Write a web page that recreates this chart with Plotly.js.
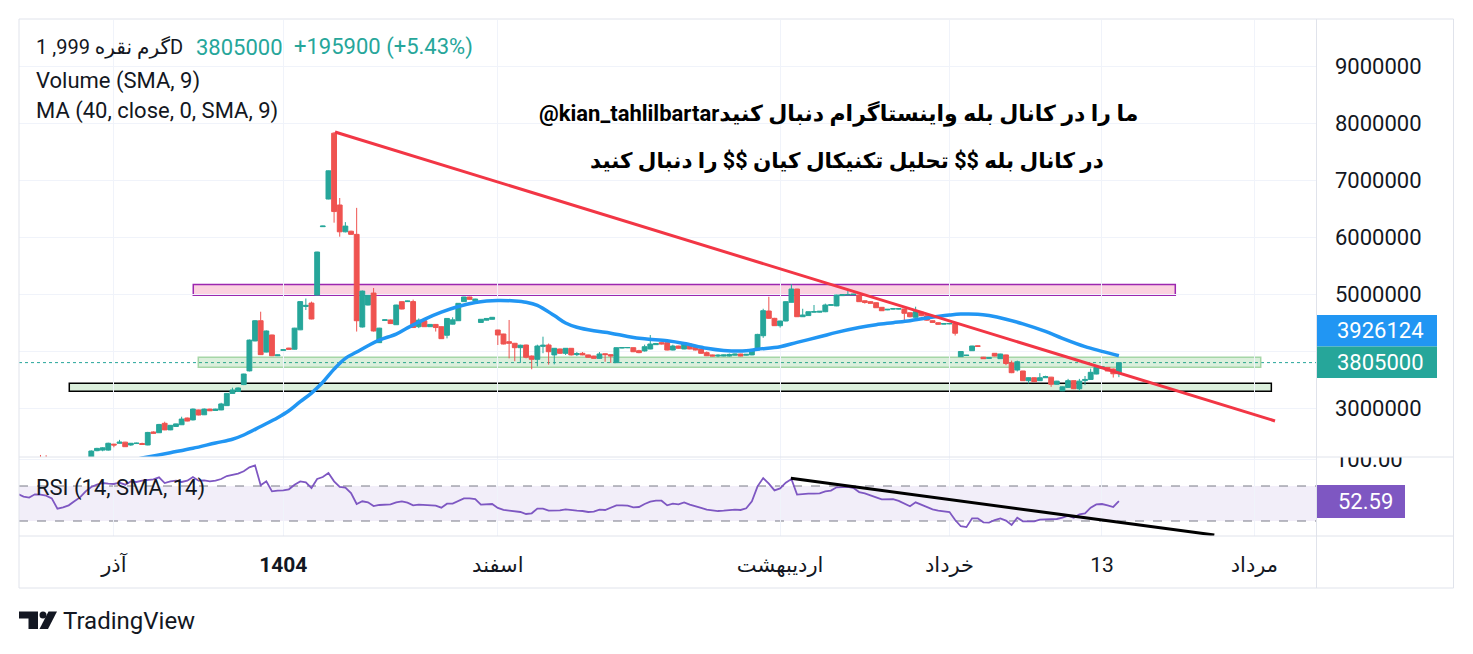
<!DOCTYPE html>
<html>
<head>
<meta charset="utf-8">
<script src="https://cdn.plot.ly/plotly-3.0.1.min.js"></script>
<style>
html,body{margin:0;padding:0;background:#ffffff;}
#chart{width:1473px;height:654px;}
</style>
</head>
<body>
<div id="chart"></div>
<script>
// ---------------- DATA ----------------
const barOpen = [1960000,1980000,1960000,1955000,2010000,2010000,2000000,1970000,1890000,1910000,
1940000,1980000,2030000,2120000,2260000,2270000,2270000,2375000,2390000,2410000,
2360000,2385000,2385000,2360000,2588000,2575000,2740000,2625000,2685000,2715000,
2833000,2800000,2975000,2890000,2990000,2965000,2975000,3050000,3265000,3300000,
3420000,3660000,4185000,4540000,3990000,4290000,3926000,4020000,4060000,4040000,
4380000,4790000,4850000,4990000,6190000,6675000,7830000,6570000,6100000,6110000,
6055000,4430000,4815000,5025000,4155000,4545000,4553000,4470000,4874000,4875000,
4875000,4435000,4540000,4435000,4475000,4435000,4285000,4480000,4540000,4875000,
4956000,4890000,4510000,4550000,4565000,4377000,4307000,4172000,4144000,4067000,
4114000,3920000,3863000,4090000,4114000,3940000,4044000,3968000,4056000,3945000,
3968000,3940000,3920000,3880000,3960000,3945000,3804000,4060000,4065000,4067000,
4014000,4010000,4044000,4120000,4155000,4155000,4026000,4096000,4044000,4131000,
4070000,4044000,3980000,3940000,3920000,3920000,3920000,3935000,3956000,3935000,
3940000,4026000,4277000,4710000,4582000,4453000,4535000,4863000,5096000,4610000,
4630000,4690000,4690000,4698000,4810000,4800000,4980000,4990000,4995000,4990000,
4890000,4874000,4856000,4775000,4730000,4745000,4745000,4745000,4680000,4600000,
4688000,4628000,4540000,4505000,4480000,4485000,4488000,3910000,3930000,4014000,
4100000,3900000,3880000,3968000,3874000,3940000,3800000,3675000,3658000,3488000,
3540000,3488000,3540000,3550000,3425000,3310000,3370000,3488000,3347000,3490000,
3510000,3605000,3705000,3720000,3693000,3610000];

const barHigh = [1990000,2000000,1980000,2020000,2185000,2180000,2020000,1980000,1920000,1950000,
1990000,2040000,2120000,2265000,2310000,2320000,2400000,2380000,2450000,2415000,
2395000,2400000,2400000,2590000,2600000,2730000,2768000,2710000,2735000,2856000,
2840000,3000000,2980000,3000000,2995000,2995000,3100000,3270000,3365000,3370000,
3610000,4210000,4550000,4698000,4370000,4295000,3945000,4035000,4065000,4415000,
4880000,4930000,4875000,5750000,6205000,7175000,7850000,6693000,6270000,6120000,
6520000,5070000,4990000,5114000,4415000,4560000,4560000,4820000,4880000,4890000,
4910000,4580000,4545000,4480000,4480000,4440000,4585000,4600000,4850000,4960000,
4960000,4925000,4570000,4585000,4605000,4380000,4310000,4553000,4150000,4120000,
4120000,3930000,4120000,4260000,4140000,4060000,4050000,4060000,4060000,3990000,
3990000,3945000,3925000,3990000,3965000,3950000,4070000,4075000,4075000,4070000,
4030000,4120000,4289000,4150000,4160000,4160000,4120000,4100000,4140000,4135000,
4075000,4050000,4000000,3945000,3950000,3945000,3965000,3960000,3960000,3955000,
4030000,4310000,4750000,4960000,4590000,4540000,4880000,5184000,5100000,4750000,
4700000,4816000,4710000,4840000,4830000,4995000,5005000,5090000,5010000,4995000,
4895000,4880000,4860000,4780000,4745000,4755000,4755000,4750000,4685000,4786000,
4695000,4630000,4545000,4510000,4492000,4495000,4490000,4005000,3940000,4100000,
4105000,3905000,3895000,3970000,3960000,3945000,3840000,3840000,3660000,3545000,
3545000,3620000,3575000,3555000,3485000,3385000,3520000,3490000,3520000,3570000,
3700000,3725000,3740000,3725000,3700000,3810000];

const barLow = [1940000,1950000,1940000,1950000,2000000,1990000,1960000,1880000,1870000,1900000,
1930000,1970000,2020000,2110000,2250000,2250000,2260000,2320000,2385000,2325000,
2345000,2380000,2365000,2355000,2560000,2570000,2620000,2620000,2680000,2710000,
2775000,2790000,2880000,2885000,2955000,2960000,2970000,3045000,3260000,3295000,
3410000,3650000,4180000,3940000,3985000,3920000,3920000,4015000,4035000,4035000,
4375000,4728000,4565000,4985000,6185000,6670000,6260000,6014000,6090000,6050000,
4350000,4420000,4810000,4350000,4150000,4540000,4485000,4465000,4740000,4870000,
4415000,4410000,4430000,4430000,4350000,4220000,4230000,4475000,4535000,4870000,
4910000,4885000,4505000,4545000,4560000,4114000,4125000,3880000,3830000,3800000,
3880000,3688000,3740000,3970000,3770000,3775000,3960000,3940000,3930000,3920000,
3935000,3890000,3875000,3875000,3820000,3800000,3800000,4055000,4060000,3990000,
3970000,4000000,4040000,4115000,4125000,4020000,4020000,4050000,4040000,4040000,
4020000,3960000,3920000,3915000,3900000,3915000,3910000,3930000,3915000,3930000,
3935000,4020000,4240000,4575000,4450000,4420000,4530000,4860000,4605000,4605000,
4625000,4685000,4685000,4690000,4805000,4795000,4975000,4985000,4990000,4870000,
4840000,4840000,4765000,4710000,4725000,4740000,4740000,4503000,4600000,4595000,
4620000,4540000,4505000,4470000,4478000,4480000,4280000,3905000,3925000,4010000,
4085000,3870000,3875000,3915000,3870000,3760000,3620000,3650000,3485000,3440000,
3465000,3485000,3535000,3380000,3420000,3305000,3365000,3340000,3310000,3410000,
3505000,3600000,3700000,3655000,3543000,3550000];

const barClose = [1980000,1960000,1955000,2010000,2005000,2000000,1970000,1890000,1910000,1940000,
1980000,2030000,2110000,2254000,2300000,2310000,2390000,2360000,2410000,2330000,
2390000,2392000,2370000,2580000,2565000,2720000,2625000,2705000,2730000,2815000,
2780000,2990000,2886000,2990000,2960000,2990000,3080000,3265000,3325000,3360000,
3605000,4200000,4540000,3945000,4360000,3926000,3940000,4030000,4038000,4410000,
4875000,4810000,4570000,5745000,6200000,7170000,6455000,6100000,6200000,6055000,
4540000,5060000,4985000,4360000,4410000,4555000,4490000,4815000,4745000,4885000,
4420000,4550000,4435000,4475000,4420000,4225000,4580000,4555000,4845000,4956000,
4915000,4920000,4565000,4580000,4600000,4290000,4131000,4144000,4067000,4110000,
3898000,3863000,4096000,4110000,3996000,4056000,3968000,4056000,3940000,3963000,
3940000,3898000,3880000,3956000,3945000,3920000,4067000,4070000,4070000,3996000,
3980000,4084000,4131000,4140000,4131000,4026000,4096000,4056000,4131000,4044000,
4026000,3968000,3926000,3920000,3935000,3940000,3948000,3956000,3920000,3950000,
4026000,4300000,4716000,4582000,4453000,4535000,4874000,5096000,4610000,4640000,
4698000,4700000,4705000,4816000,4820000,4990000,5000000,5000000,5005000,4874000,
4860000,4845000,4768000,4715000,4740000,4750000,4750000,4670000,4610000,4698000,
4628000,4550000,4510000,4477000,4490000,4490000,4320000,4000000,3935000,4096000,
4090000,3874000,3890000,3920000,3956000,3790000,3628000,3820000,3488000,3540000,
3470000,3540000,3560000,3425000,3480000,3380000,3488000,3347000,3480000,3510000,
3635000,3720000,3733000,3658000,3609100,3805000];

const rsiValues = [60.9,57.8,56.7,60.5,60.1,59.0,55.9,44.1,45.6,47.9,
52.5,57.0,63.9,68.9,71.5,73.4,72.7,72.3,73.8,71.5,
75.3,74.6,76.1,77.2,77.6,79.9,73.4,75.3,76.1,74.6,
76.1,80.3,76.1,76.5,75.3,76.1,78.0,81.4,83.0,84.1,
86.8,91.3,93.6,70.8,75.3,63.9,64.7,65.0,66.2,71.5,
75.3,74.2,67.7,78.0,80.3,84.9,75.3,68.9,68.1,62.0,
49.4,52.5,51.3,47.1,48.3,48.7,49.0,51.3,52.5,51.0,
47.9,48.7,48.3,47.9,47.5,45.2,49.8,49.8,53.2,55.9,
55.9,55.1,48.7,48.7,49.4,44.9,42.6,41.8,41.4,40.3,
38.0,38.8,44.1,44.1,41.8,41.8,42.2,43.3,42.2,41.8,
41.4,40.3,40.7,43.0,42.6,44.9,47.9,47.9,47.5,45.6,
46.0,49.4,52.1,53.2,53.2,47.9,49.8,49.0,51.3,48.7,
47.1,44.9,43.0,41.8,41.4,41.8,42.6,43.0,42.6,44.5,
52.5,69.6,79.1,72.7,65.0,67.3,73.8,78.0,60.1,60.9,
61.2,61.2,61.6,63.9,64.7,68.5,68.9,68.9,67.7,63.1,
61.6,59.7,57.0,54.8,55.1,55.1,52.9,49.8,46.8,51.3,
48.7,45.6,43.3,41.8,41.0,40.3,31.1,24.0,23.0,33.0,
33.0,28.5,28.1,31.1,33.0,30.4,25.4,33.8,29.6,30.0,
29.6,31.5,31.9,31.5,32.3,33.8,36.1,33.8,37.6,38.8,
45.2,49.0,49.4,47.9,46.0,52.59];

// MA (40, close, 0, SMA, 9) read at a subset of bars
const maBars = [18,22,27,31,35,38,40,43,46,48,50,52,54,56,58,60,62,64,67,69,
72,75,78,81,83,85,88,90,92,95,97,99,102,105,108,111,115,118,122,125,
129,131,135,138,142,145,149,152,155,158,161,165,167,170,172,175,178,182,185,189,
192,195];
const maValues = [2050000,2130000,2225000,2302000,2395000,2460000,2535000,2685000,2838000,2960000,
3120000,3270000,3460000,3690000,3880000,3990000,4100000,4200000,4305000,4415000,
4565000,4690000,4790000,4860000,4886000,4895000,4887000,4865000,4810000,4630000,
4500000,4425000,4363000,4322000,4265000,4222000,4187000,4140000,4056000,4018000,
4012000,4040000,4084000,4160000,4258000,4335000,4420000,4470000,4505000,4540000,
4588000,4640000,4657000,4655000,4630000,4567000,4485000,4352000,4230000,4085000,
4003000,3926124];

const timeTickBars = [17, 47, 85, 135, 165, 192, 219];
const timeTickLabels = ['آذر', '<b>1404</b>', 'اسفند', 'اردیبهشت', 'خرداد', '13', 'مرداد'];
const priceTicks = [3000000, 4000000, 5000000, 6000000, 7000000, 8000000, 9000000];
const priceTickLabels = ['3000000', '', '5000000', '6000000', '7000000', '8000000', '9000000']; // 4000000 hidden behind the price tags
const rsiTicks = [100];
const rsiTickLabels = ['100.00'];

const lastPrice = 3805000;
const priceChange = '+195900 (+5.43%)';
const maLast = 3926124;
const rsiLast = 52.59;
const symbolTitle = 'گرم نقره 999, 1D';
const watermark1 = '@kian_tahlilbartarما را در کانال بله واینستاگرام دنبال کنید';
const watermark2 = 'در کانال بله $$ تحلیل تکنیکال کیان $$ را دنبال کنید';

// ---------------- CHART ----------------
const bars = barOpen.map((_, i) => i);

// pixel -> paper helpers (plot area: x 19..1316, y 20..536)
const PX = X => (X - 19) / 1297;
const PY = Y => (536 - Y) / 516;

const TEAL = '#26a69a', RED = '#ef5350', INK = '#131722', FRAME = '#e0e3eb', GRID = '#f0f3fa';
const FONT = 'Roboto, "DejaVu Sans", sans-serif';

const traces = [
  {
    type: 'candlestick', x: bars, open: barOpen, high: barHigh, low: barLow, close: barClose,
    xaxis: 'x', yaxis: 'y', whiskerwidth: 0, hoverinfo: 'skip',
    increasing: {line: {color: TEAL, width: 1}, fillcolor: TEAL},
    decreasing: {line: {color: RED, width: 1}, fillcolor: RED}
  },
  {
    type: 'scatter', mode: 'lines', x: maBars, y: maValues, xaxis: 'x', yaxis: 'y',
    line: {color: '#2196f3', width: 3.5, shape: 'spline', smoothing: 1}, hoverinfo: 'skip'
  },
  {
    type: 'scatter', mode: 'lines', x: bars, y: rsiValues, xaxis: 'x', yaxis: 'y2',
    line: {color: '#7e57c2', width: 1.8}, hoverinfo: 'skip'
  }
];

function logoPath(pts) {
  return 'M' + pts.map(p => PX(p[0]) + ',' + PY(p[1])).join('L') + 'Z';
}

const shapes = [
  // RSI band and levels
  {type: 'rect', xref: 'paper', yref: 'y2', x0: 0, x1: 1, y0: 30, y1: 70,
   fillcolor: 'rgba(126,87,194,0.1)', line: {width: 0}, layer: 'below'},
  {type: 'line', xref: 'paper', yref: 'y2', x0: 0, x1: 1, y0: 70, y1: 70,
   line: {color: '#787b86', width: 1, dash: 'dash'}, layer: 'below'},
  {type: 'line', xref: 'paper', yref: 'y2', x0: 0, x1: 1, y0: 30, y1: 30,
   line: {color: '#787b86', width: 1, dash: 'dash'}, layer: 'below'},
  // zones
  {type: 'rect', xref: 'x', yref: 'y', x0: 31.06, x1: 204.99, y0: 4986000, y1: 5175400,
   fillcolor: 'rgba(233,30,99,0.2)', line: {color: '#9c27b0', width: 1.5}, layer: 'below'},
  {type: 'rect', xref: 'x', yref: 'y', x0: 31.95, x1: 220.12, y0: 3722800, y1: 3898200,
   fillcolor: 'rgba(76,175,80,0.2)', line: {color: '#a5d6a7', width: 1.5}, layer: 'below'},
  {type: 'rect', xref: 'x', yref: 'y', x0: 9.10, x1: 222.0, y0: 3301800, y1: 3442100,
   fillcolor: 'rgba(76,175,80,0.2)', line: {color: '#000000', width: 1.5}, layer: 'below'},
  // last price line
  {type: 'line', xref: 'paper', yref: 'y', x0: 0, x1: 1, y0: lastPrice, y1: lastPrice,
   line: {color: TEAL, width: 1, dash: 'dot'}, layer: 'below'},
  // trend lines
  {type: 'line', xref: 'x', yref: 'y', x0: 56.17, y0: 7851000, x1: 222.65, y1: 2781000,
   line: {color: '#f23645', width: 3}, layer: 'above'},
  {type: 'line', xref: 'x', yref: 'y2', x0: 136.9, y0: 78.8, x1: 211.9, y1: 14.0,
   line: {color: '#000000', width: 3}, layer: 'above'},
  // cover top of 100.00 label
  {type: 'rect', xref: 'paper', yref: 'paper', x0: PX(1317.5), x1: PX(1452.5), y0: PY(457), y1: PY(438),
   fillcolor: '#ffffff', line: {width: 0}, layer: 'above'},
  // frame
  {type: 'rect', xref: 'paper', yref: 'paper', x0: PX(19), x1: PX(1453.5), y0: PY(588), y1: PY(19),
   line: {color: FRAME, width: 1}, layer: 'above'},
  {type: 'line', xref: 'paper', yref: 'paper', x0: PX(1316.5), x1: PX(1316.5), y0: PY(588), y1: PY(19),
   line: {color: FRAME, width: 1}, layer: 'above'},
  {type: 'line', xref: 'paper', yref: 'paper', x0: PX(19), x1: PX(1453.5), y0: PY(457), y1: PY(457),
   line: {color: FRAME, width: 1}, layer: 'above'},
  {type: 'line', xref: 'paper', yref: 'paper', x0: PX(19), x1: PX(1453.5), y0: PY(536), y1: PY(536),
   line: {color: FRAME, width: 1}, layer: 'above'},
  // price tags
  {type: 'rect', xref: 'paper', yref: 'paper', x0: PX(1317), x1: PX(1437), y0: PY(346.5), y1: PY(315),
   fillcolor: '#2196f3', line: {width: 0}, layer: 'above'},
  {type: 'rect', xref: 'paper', yref: 'paper', x0: PX(1317), x1: PX(1437), y0: PY(378), y1: PY(346.5),
   fillcolor: TEAL, line: {width: 0}, layer: 'above'},
  {type: 'rect', xref: 'paper', yref: 'paper', x0: PX(1317), x1: PX(1405), y0: PY(518), y1: PY(485),
   fillcolor: '#7e57c2', line: {width: 0}, layer: 'above'},
  // TradingView logo
  {type: 'path', xref: 'paper', yref: 'paper', layer: 'above', fillcolor: INK, line: {width: 0},
   path: logoPath([[19,611.5],[38,611.5],[38,629],[28.5,629],[28.5,618.5],[19,618.5]])},
  {type: 'circle', xref: 'paper', yref: 'paper', layer: 'above', fillcolor: INK, line: {width: 0},
   x0: PX(39.5), x1: PX(46.5), y0: PY(618.5), y1: PY(611.5)},
  {type: 'path', xref: 'paper', yref: 'paper', layer: 'above', fillcolor: INK, line: {width: 0},
   path: logoPath([[48.5,611.5],[57,611.5],[48,629],[39.5,629]])}
];

function label(text, X, Y, opts) {
  opts = opts || {};
  return {
    text: text, xref: 'paper', yref: 'paper', x: PX(X), y: PY(Y),
    xanchor: opts.anchor || 'left', yanchor: 'middle', showarrow: false,
    font: {family: FONT, size: opts.size || 22, color: opts.color || INK, weight: opts.weight || 'normal'}
  };
}

const annotations = [
  label(symbolTitle, 34, 47.5, {size: 20}),
  label(String(lastPrice), 194, 47.5, {color: TEAL}),
  label(priceChange, 292, 47.5, {color: TEAL}),
  label('Volume (SMA, 9)', 34, 80.5),
  label('MA (40, close, 0, SMA, 9)', 34, 111),
  label('RSI (14, SMA, 14)', 34, 488),
  label(watermark1, 838, 113, {anchor: 'center', size: 22, weight: 'bold', color: '#000000'}),
  label(watermark2, 847, 160, {anchor: 'center', size: 21.5, weight: 'bold', color: '#000000'}),
  label(String(maLast), 1335, 330.5, {color: '#ffffff', size: 22}),
  label(String(lastPrice), 1335, 362.3, {color: '#ffffff', size: 22}),
  label(rsiLast.toFixed(2), 1336, 501.5, {color: '#ffffff', size: 22}),
  label('TradingView', 61, 620.5, {size: 24})
];

const layout = {
  width: 1473, height: 654,
  margin: {l: 19, r: 157, t: 20, b: 118, pad: 0},
  paper_bgcolor: '#ffffff', plot_bgcolor: '#ffffff',
  showlegend: false, hovermode: false, dragmode: false,
  boxgap: 0.1, boxgroupgap: 0.05,
  xaxis: {
    range: [0.195, 229.91], anchor: 'y2', tickvals: timeTickBars, ticktext: timeTickLabels,
    showgrid: true, gridcolor: GRID, gridwidth: 1, zeroline: false, showline: false, ticks: '',
    ticklabelstandoff: 14, tickfont: {family: FONT, size: 21, color: INK},
    rangeslider: {visible: false}, fixedrange: true
  },
  yaxis: {
    domain: [PY(457), 1], range: [2149123, 9815789], side: 'right', anchor: 'x',
    tickvals: priceTicks, ticktext: priceTickLabels,
    showgrid: true, gridcolor: GRID, zeroline: false, showline: false, ticks: '',
    ticklabelstandoff: 18, tickfont: {family: FONT, size: 22, color: INK}, fixedrange: true
  },
  yaxis2: {
    domain: [0, PY(457)], range: [12.857, 103.14], side: 'right', anchor: 'x',
    tickvals: rsiTicks, ticktext: rsiTickLabels,
    showgrid: true, gridcolor: GRID, zeroline: false, showline: false, ticks: '',
    ticklabelstandoff: 18, tickfont: {family: FONT, size: 22, color: INK}, fixedrange: true
  },
  shapes: shapes,
  annotations: annotations
};

Plotly.newPlot('chart', traces, layout, {staticPlot: true, displayModeBar: false});
</script>
</body>
</html>
